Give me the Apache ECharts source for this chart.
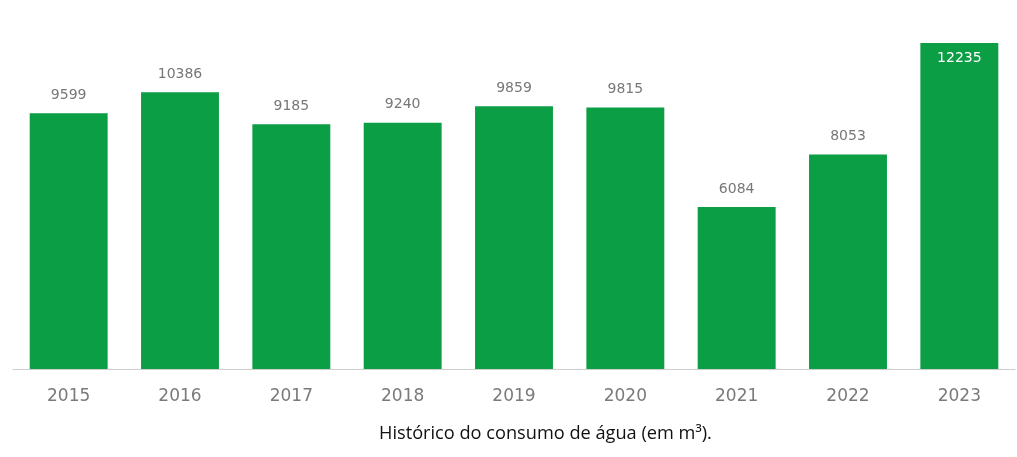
<!DOCTYPE html>
<html><head><meta charset="utf-8">
<script src="https://cdn.jsdelivr.net/npm/echarts@6/dist/echarts.min.js"></script>
<style>html,body{margin:0;padding:0;background:#fff}#c{width:1017px;height:457px}</style>
</head><body><div id="c"></div>
<script>
const years = ['2015','2016','2017','2018','2019','2020','2021','2022','2023'];
const consumo = [9599,10386,9185,9240,9859,9815,6084,8053,12235];
const titleText = 'Histórico do consumo de água (em m³).';
const maxIdx = consumo.indexOf(Math.max(...consumo));
const chart = echarts.init(document.getElementById('c'));
chart.setOption({
  animation:false,
  title:{text:titleText,left:374,top:420,textStyle:{fontFamily:'Open Sans',fontWeight:'normal',fontSize:18.2,color:'#111'}},
  grid:{left:13,right:2,top:43,bottom:88},
  xAxis:{type:'category',data:years,axisTick:{show:false},
    axisLine:{lineStyle:{color:'#cfcfcf',width:1}},
    axisLabel:{margin:19,color:'#7a7a7a',fontSize:17,fontFamily:'DejaVu Sans'}},
  yAxis:{type:'value',min:0,max:'dataMax',show:false,splitLine:{show:false}},
  series:[{type:'bar',barWidth:'70%',
    data:consumo.map((v,i)=>i===maxIdx?{value:v,label:{position:'insideTop',distance:8,color:'#fff'}}:v),
    itemStyle:{color:'#0c9e44'},
    label:{show:true,position:'top',distance:11,color:'#777',fontSize:14,fontFamily:'DejaVu Sans'}}]
});
</script></body></html>
